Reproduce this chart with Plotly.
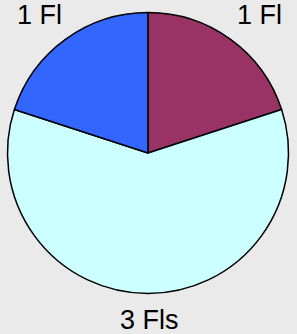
import plotly.graph_objects as go

labels = ["1 Fl", "3 Fls", "1 Fl"]
values = [1, 3, 1]
colors = ["#993366", "#CCFFFF", "#3366FF"]

W, H = 297, 334
cx, cy, R = 148, 153, 140.5
# label centres (pixels from top-left), layout only
label_pos = [(259.8, 15.5), (149.5, 320.0), (39.8, 15.5)]

fig = go.Figure(go.Pie(
    values=values,
    labels=[f"s{i}" for i in range(len(values))],
    sort=False,
    direction="clockwise",
    rotation=0,
    textinfo="none",
    hoverinfo="skip",
    marker=dict(colors=colors, line=dict(color="black", width=1.5)),
    domain=dict(x=[(cx - R) / W, (cx + R) / W], y=[1 - (cy + R) / H, 1 - (cy - R) / H]),
    showlegend=False,
))

anns = []
for lab, (px, py) in zip(labels, label_pos):
    anns.append(dict(x=px / W, y=1 - py / H, xref="paper", yref="paper",
                     text=lab, showarrow=False, xanchor="center", yanchor="middle",
                     font=dict(family="Liberation Sans, Arial", size=27, color="black")))

fig.update_layout(
    width=W, height=H,
    margin=dict(l=0, r=0, t=0, b=0),
    paper_bgcolor="#EAEAEA",
    plot_bgcolor="#EAEAEA",
    annotations=anns,
)
fig.write_html(
    "out.html",
    config={"displayModeBar": False},
    post_script="document.body.style.margin='0';document.body.style.background='#EAEAEA';",
)
